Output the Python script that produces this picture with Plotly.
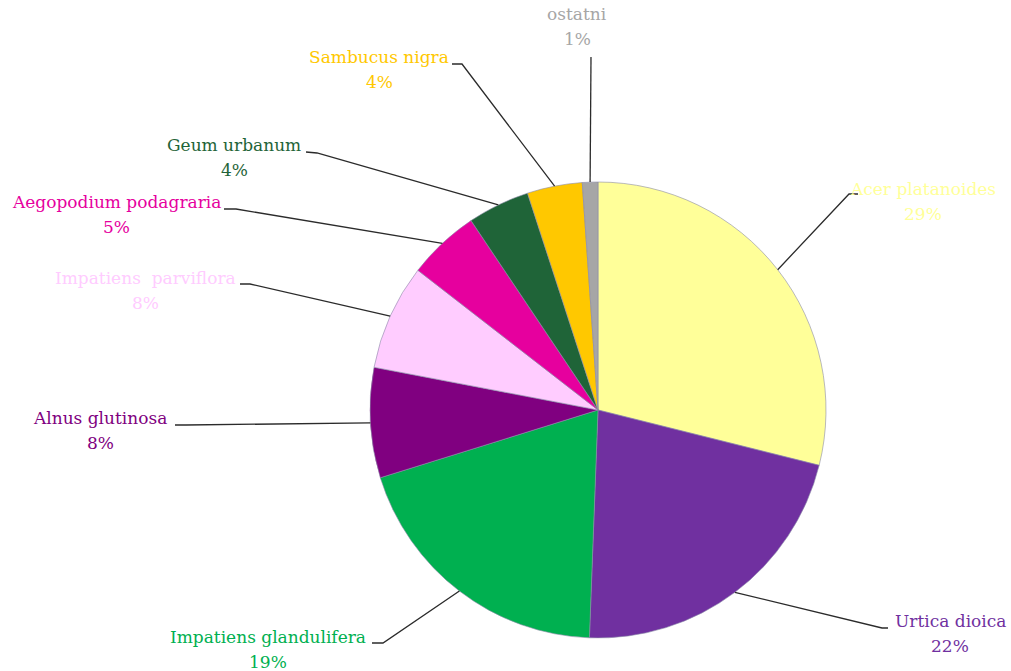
import numpy as np
import plotly.graph_objects as go

# ---- data ----
species = ["Acer platanoides", "Urtica dioica", "Impatiens glandulifera",
           "Alnus glutinosa", "Impatiens  parviflora", "Aegopodium podagraria",
           "Geum urbanum", "Sambucus nigra", "ostatni"]
shares = [28.9, 21.7, 19.6, 7.8, 7.5, 5.1, 4.4, 3.9, 1.1]
pct_labels = ["29%", "22%", "19%", "8%", "8%", "5%", "4%", "4%", "1%"]
colors = ["#FFFF99", "#7030A0", "#00B050", "#800080", "#FFCCFF",
          "#E6009E", "#1F6438", "#FFC800", "#A6A6A6"]

# ---- layout constants (pixels) ----
W, H = 1011, 671
CX, CY, R = 598, 410, 228
# label name centre (x, y), stub start (x, y), stub end / elbow (x, y)
label_pos = [(923, 189), (950, 621), (268, 637), (100, 418), (145, 278),
             (116, 202), (234, 145), (379, 57), (577, 14)]
stub_start = [(858, 194), (888, 628), (372, 643), (175, 425), (240, 284),
              (224, 209), (306, 152), (452, 64), (591, 57)]
stub_end = [(849, 194), (882, 628), (383, 643), (186, 425), (250, 284),
            (236, 209), (317, 153), (462, 64), (591, 57)]
FONT = "DejaVu Serif"
FS = 17

fig = go.Figure()
fig.add_trace(go.Pie(
    values=shares, labels=species, sort=False, direction="clockwise",
    rotation=0, textinfo="none", showlegend=False, hoverinfo="label+percent",
    marker=dict(colors=colors, line=dict(color="#8c8ca8", width=0.6)),
    domain=dict(x=[(CX - R) / W, (CX + R) / W],
                y=[(H - CY - R) / H, (H - CY + R) / H]),
))
# invisible pixel-coordinate axes for leader lines / labels
fig.add_trace(go.Scatter(x=[], y=[], showlegend=False))

total = sum(shares)
cum = np.cumsum([0] + shares)
shapes, annotations = [], []
for i, name in enumerate(species):
    mid = 90 - 360 * (cum[i] + shares[i] / 2) / total
    ex = CX + R * np.cos(np.radians(mid))
    ey = CY - R * np.sin(np.radians(mid))
    sx, sy = stub_start[i]
    kx, ky = stub_end[i]
    shapes.append(dict(type="path", xref="x", yref="y",
                       path=f"M {sx} {sy} L {kx} {ky} L {ex:.1f} {ey:.1f}",
                       line=dict(color="#2b2b2b", width=1.3)))
    lx, ly = label_pos[i]
    annotations.append(dict(x=lx, y=ly, xref="x", yref="y", text=name,
                            showarrow=False, xanchor="center", yanchor="middle",
                            font=dict(family=FONT, size=FS, color=colors[i])))
    annotations.append(dict(x=lx, y=ly + 25, xref="x", yref="y", text=pct_labels[i],
                            showarrow=False, xanchor="center", yanchor="middle",
                            font=dict(family=FONT, size=FS, color=colors[i])))

fig.update_layout(
    width=W, height=H, margin=dict(l=0, r=0, t=0, b=0),
    paper_bgcolor="white", plot_bgcolor="rgba(0,0,0,0)",
    xaxis=dict(range=[0, W], visible=False, domain=[0, 1], fixedrange=True),
    yaxis=dict(range=[H, 0], visible=False, domain=[0, 1], fixedrange=True),
    shapes=shapes, annotations=annotations,
)
fig.write_html("out.html", config={"displayModeBar": False},
               post_script="document.body.style.margin='0';document.body.style.padding='0';")
